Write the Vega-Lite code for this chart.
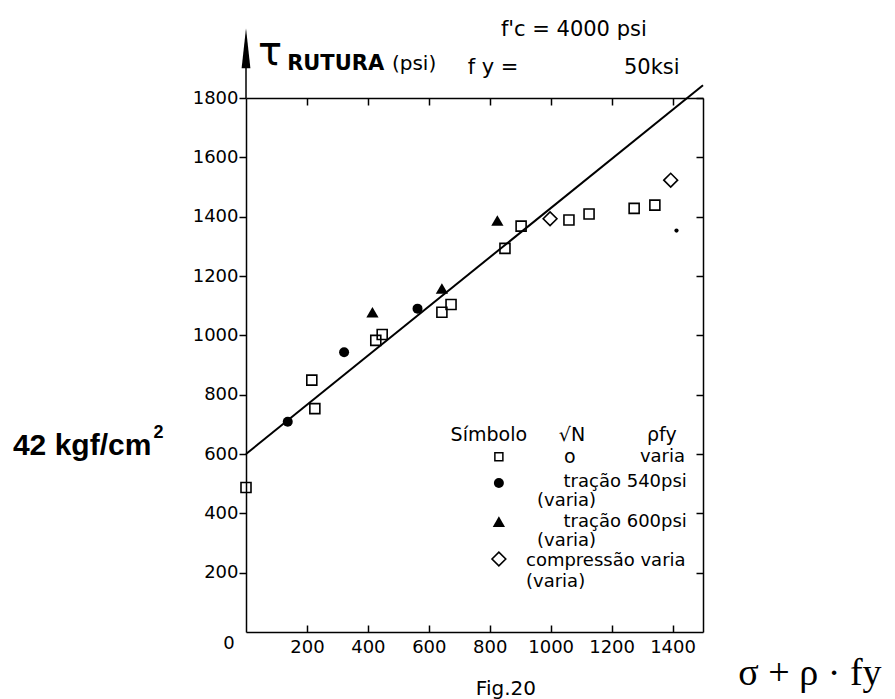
{
  "$schema": "https://vega.github.io/schema/vega-lite/v6.json",
  "width": 457,
  "height": 534,
  "autosize": {"type": "none"},
  "padding": {"left": 246, "top": 98, "right": 192, "bottom": 67},
  "background": "white",
  "config": {
    "view": {"stroke": null},
    "axis": {"grid": false, "title": null, "format": "d", "domainColor": "black", "domainWidth": 1.5, "tickColor": "black", "tickWidth": 1.5, "labelColor": "black", "labelFont": "DejaVu Sans", "labelFontSize": 18}
  },
  "resolve": {"axis": {"x": "independent", "y": "independent"}},
  "datasets": {
    "pts": [
      {"x": 0, "y": 487, "k": "sq"},
      {"x": 216, "y": 849, "k": "sq"},
      {"x": 226, "y": 753, "k": "sq"},
      {"x": 426, "y": 983, "k": "sq"},
      {"x": 447, "y": 1003, "k": "sq"},
      {"x": 643, "y": 1078, "k": "sq"},
      {"x": 673, "y": 1104, "k": "sq"},
      {"x": 850, "y": 1293, "k": "sq"},
      {"x": 903, "y": 1368, "k": "sq"},
      {"x": 1060, "y": 1389, "k": "sq"},
      {"x": 1126, "y": 1409, "k": "sq"},
      {"x": 1274, "y": 1428, "k": "sq"},
      {"x": 1342, "y": 1439, "k": "sq"},
      {"x": 137, "y": 709, "k": "ci"},
      {"x": 322, "y": 943, "k": "ci"},
      {"x": 563, "y": 1090, "k": "ci"},
      {"x": 415, "y": 1078, "k": "tr"},
      {"x": 643, "y": 1158, "k": "tr"},
      {"x": 825, "y": 1387, "k": "tr"},
      {"x": 998, "y": 1393, "k": "di"},
      {"x": 1394, "y": 1523, "k": "di"},
      {"x": 1413, "y": 1353, "k": "dot"},
      {"x": 830, "y": 591, "k": "sqL"},
      {"x": 830, "y": 502, "k": "ci"},
      {"x": 830, "y": 372, "k": "tr"},
      {"x": 830, "y": 246, "k": "di"}
    ]
  },
  "layer": [
    {
      "data": {"values": [{"x": 0, "y": 600}, {"x": 1500, "y": 1843}]},
      "mark": {"type": "line", "color": "black", "strokeWidth": 2, "clip": false},
      "encoding": {
        "x": {"field": "x", "type": "quantitative", "scale": {"domain": [0, 1500], "nice": false, "zero": false},
              "axis": {"orient": "bottom", "values": [200, 400, 600, 800, 1000, 1200, 1400], "tickSize": -7, "labelPadding": 13}},
        "y": {"field": "y", "type": "quantitative", "scale": {"domain": [0, 1800], "nice": false, "zero": false},
              "axis": {"orient": "left", "values": [200, 400, 600, 800, 1000, 1200, 1400, 1600, 1800], "tickSize": 7, "labelPadding": 1}}
      }
    },
    {
      "data": {"name": "pts"},
      "transform": [{"filter": "datum.k == 'sq'"}],
      "mark": {"type": "point", "shape": "square", "size": 100, "filled": false, "color": "black", "strokeWidth": 1.6, "opacity": 1},
      "encoding": {
        "x": {"field": "x", "type": "quantitative", "scale": {"domain": [0, 1500], "nice": false, "zero": false},
              "axis": {"orient": "top", "values": [200, 400, 600, 800, 1000, 1200, 1400], "tickSize": -7, "labels": false}},
        "y": {"field": "y", "type": "quantitative", "scale": {"domain": [0, 1800], "nice": false, "zero": false},
              "axis": {"orient": "right", "values": [200, 400, 600, 800, 1000, 1200, 1400, 1600, 1800], "tickSize": -7, "labels": false}}
      }
    },
    {
      "data": {"name": "pts"},
      "transform": [{"filter": "datum.k == 'sqL'"}],
      "mark": {"type": "point", "shape": "square", "size": 64, "filled": false, "color": "black", "strokeWidth": 1.5, "opacity": 1},
      "encoding": {
        "x": {"field": "x", "type": "quantitative", "axis": null},
        "y": {"field": "y", "type": "quantitative", "axis": null}
      }
    },
    {
      "data": {"name": "pts"},
      "transform": [{"filter": "datum.k == 'ci'"}],
      "mark": {"type": "point", "shape": "circle", "size": 100, "filled": true, "color": "black", "opacity": 1},
      "encoding": {
        "x": {"field": "x", "type": "quantitative", "axis": null},
        "y": {"field": "y", "type": "quantitative", "axis": null}
      }
    },
    {
      "data": {"name": "pts"},
      "transform": [{"filter": "datum.k == 'tr'"}],
      "mark": {"type": "point", "shape": "triangle-up", "size": 150, "filled": true, "color": "black", "opacity": 1},
      "encoding": {
        "x": {"field": "x", "type": "quantitative", "axis": null},
        "y": {"field": "y", "type": "quantitative", "axis": null}
      }
    },
    {
      "data": {"name": "pts"},
      "transform": [{"filter": "datum.k == 'di'"}],
      "mark": {"type": "point", "shape": "diamond", "size": 190, "filled": false, "color": "black", "strokeWidth": 1.6, "opacity": 1},
      "encoding": {
        "x": {"field": "x", "type": "quantitative", "axis": null},
        "y": {"field": "y", "type": "quantitative", "axis": null}
      }
    },
    {
      "data": {"name": "pts"},
      "transform": [{"filter": "datum.k == 'dot'"}],
      "mark": {"type": "point", "shape": "circle", "size": 18, "filled": true, "color": "black", "opacity": 1},
      "encoding": {
        "x": {"field": "x", "type": "quantitative", "axis": null},
        "y": {"field": "y", "type": "quantitative", "axis": null}
      }
    },
    {
      "data": {"values": [{"x": 0, "y": 1800, "y2": 1905}]},
      "mark": {"type": "rule", "color": "black", "strokeWidth": 1.5, "clip": false},
      "encoding": {
        "x": {"field": "x", "type": "quantitative", "axis": null},
        "y": {"field": "y", "type": "quantitative", "axis": null},
        "y2": {"field": "y2"}
      }
    },
    {
      "data": {"values": [{"x": 0, "y": 1968}]},
      "mark": {"type": "point", "shape": "M0,-1L0.22,1L-0.22,1Z", "size": 1600, "filled": true, "color": "black", "opacity": 1},
      "encoding": {
        "x": {"field": "x", "type": "quantitative", "axis": null},
        "y": {"field": "y", "type": "quantitative", "axis": null}
      }
    },
    {
      "data": {"values": [
        {"x": 797, "y": 664, "t": "Símbolo"},
        {"x": 1070, "y": 664, "t": "√N"},
        {"x": 1365, "y": 664, "t": "ρfy"},
        {"x": 1063, "y": 591, "t": "o"}
      ]},
      "mark": {"type": "text", "font": "DejaVu Sans", "fontSize": 19, "color": "black", "align": "center", "baseline": "middle"},
      "encoding": {
        "x": {"field": "x", "type": "quantitative", "axis": null},
        "y": {"field": "y", "type": "quantitative", "axis": null},
        "text": {"field": "t"}
      }
    },
    {
      "data": {"values": [
        {"x": 1441, "y": 591, "t": "varia"},
        {"x": 1447, "y": 506, "t": "tração 540psi"},
        {"x": 1447, "y": 372, "t": "tração 600psi"}
      ]},
      "mark": {"type": "text", "font": "DejaVu Sans", "fontSize": 18, "color": "black", "align": "right", "baseline": "middle"},
      "encoding": {
        "x": {"field": "x", "type": "quantitative", "axis": null},
        "y": {"field": "y", "type": "quantitative", "axis": null},
        "text": {"field": "t"}
      }
    },
    {
      "data": {"values": [
        {"x": 955, "y": 440, "t": "(varia)"},
        {"x": 955, "y": 308, "t": "(varia)"},
        {"x": 919, "y": 241, "t": "compressão varia"},
        {"x": 919, "y": 168, "t": "(varia)"}
      ]},
      "mark": {"type": "text", "font": "DejaVu Sans", "fontSize": 18, "color": "black", "align": "left", "baseline": "middle"},
      "encoding": {
        "x": {"field": "x", "type": "quantitative", "axis": null},
        "y": {"field": "y", "type": "quantitative", "axis": null},
        "text": {"field": "t"}
      }
    },
    {
      "data": {"values": [
        {"x": 1076, "y": 2029, "t": "f'c = 4000 psi", "a": "center"},
        {"x": 811, "y": 1901, "t": "f y =", "a": "left"},
        {"x": 1332, "y": 1901, "t": "50ksi", "a": "right"}
      ]},
      "mark": {"type": "text", "font": "DejaVu Sans", "fontSize": 21, "color": "black", "baseline": "middle"},
      "encoding": {
        "x": {"field": "x", "type": "quantitative", "axis": null},
        "y": {"field": "y", "type": "quantitative", "axis": null},
        "text": {"field": "t"},
        "align": {"field": "a", "type": "nominal", "scale": null}
      }
    },
    {
      "data": {"values": [{"x": 79, "y": 1911, "t": "τ"}]},
      "mark": {"type": "text", "font": "DejaVu Sans", "fontSize": 40, "color": "black", "align": "center", "baseline": "alphabetic"},
      "encoding": {
        "x": {"field": "x", "type": "quantitative", "axis": null},
        "y": {"field": "y", "type": "quantitative", "axis": null},
        "text": {"field": "t"}
      }
    },
    {
      "data": {"values": [{"x": 135, "y": 1894, "t": "RUTURA"}]},
      "mark": {"type": "text", "font": "DejaVu Sans", "fontSize": 21, "fontWeight": "bold", "color": "black", "align": "left", "baseline": "alphabetic"},
      "encoding": {
        "x": {"field": "x", "type": "quantitative", "axis": null},
        "y": {"field": "y", "type": "quantitative", "axis": null},
        "text": {"field": "t"}
      }
    },
    {
      "data": {"values": [{"x": 479, "y": 1894, "t": "(psi)"}]},
      "mark": {"type": "text", "font": "DejaVu Sans", "fontSize": 20, "color": "black", "align": "left", "baseline": "alphabetic"},
      "encoding": {
        "x": {"field": "x", "type": "quantitative", "axis": null},
        "y": {"field": "y", "type": "quantitative", "axis": null},
        "text": {"field": "t"}
      }
    },
    {
      "data": {"values": [{"x": 0, "y": 0, "t": "0"}]},
      "mark": {"type": "text", "font": "DejaVu Sans", "fontSize": 18, "color": "black", "align": "center", "baseline": "middle", "dx": -17, "dy": 12},
      "encoding": {
        "x": {"field": "x", "type": "quantitative", "axis": null},
        "y": {"field": "y", "type": "quantitative", "axis": null},
        "text": {"field": "t"}
      }
    },
    {
      "data": {"values": [{"x": -765, "y": 597, "t": "42 kgf/cm"}]},
      "mark": {"type": "text", "font": "Liberation Sans", "fontSize": 30, "fontWeight": "bold", "color": "black", "align": "left", "baseline": "alphabetic"},
      "encoding": {
        "x": {"field": "x", "type": "quantitative", "axis": null},
        "y": {"field": "y", "type": "quantitative", "axis": null},
        "text": {"field": "t"}
      }
    },
    {
      "data": {"values": [{"x": -287, "y": 671, "t": "2"}]},
      "mark": {"type": "text", "font": "Liberation Sans", "fontSize": 18, "fontWeight": "bold", "color": "black", "align": "center", "baseline": "middle"},
      "encoding": {
        "x": {"field": "x", "type": "quantitative", "axis": null},
        "y": {"field": "y", "type": "quantitative", "axis": null},
        "text": {"field": "t"}
      }
    },
    {
      "data": {"values": [{"x": 853, "y": -212, "t": "Fig.20"}]},
      "mark": {"type": "text", "font": "DejaVu Sans", "fontSize": 20, "color": "black", "align": "center", "baseline": "alphabetic"},
      "encoding": {
        "x": {"field": "x", "type": "quantitative", "axis": null},
        "y": {"field": "y", "type": "quantitative", "axis": null},
        "text": {"field": "t"}
      }
    },
    {
      "data": {"values": [{"x": 1851, "y": -179, "t": "σ + ρ · fy"}]},
      "mark": {"type": "text", "font": "Liberation Serif", "fontSize": 38, "color": "black", "align": "center", "baseline": "alphabetic"},
      "encoding": {
        "x": {"field": "x", "type": "quantitative", "axis": null},
        "y": {"field": "y", "type": "quantitative", "axis": null},
        "text": {"field": "t"}
      }
    }
  ]
}
